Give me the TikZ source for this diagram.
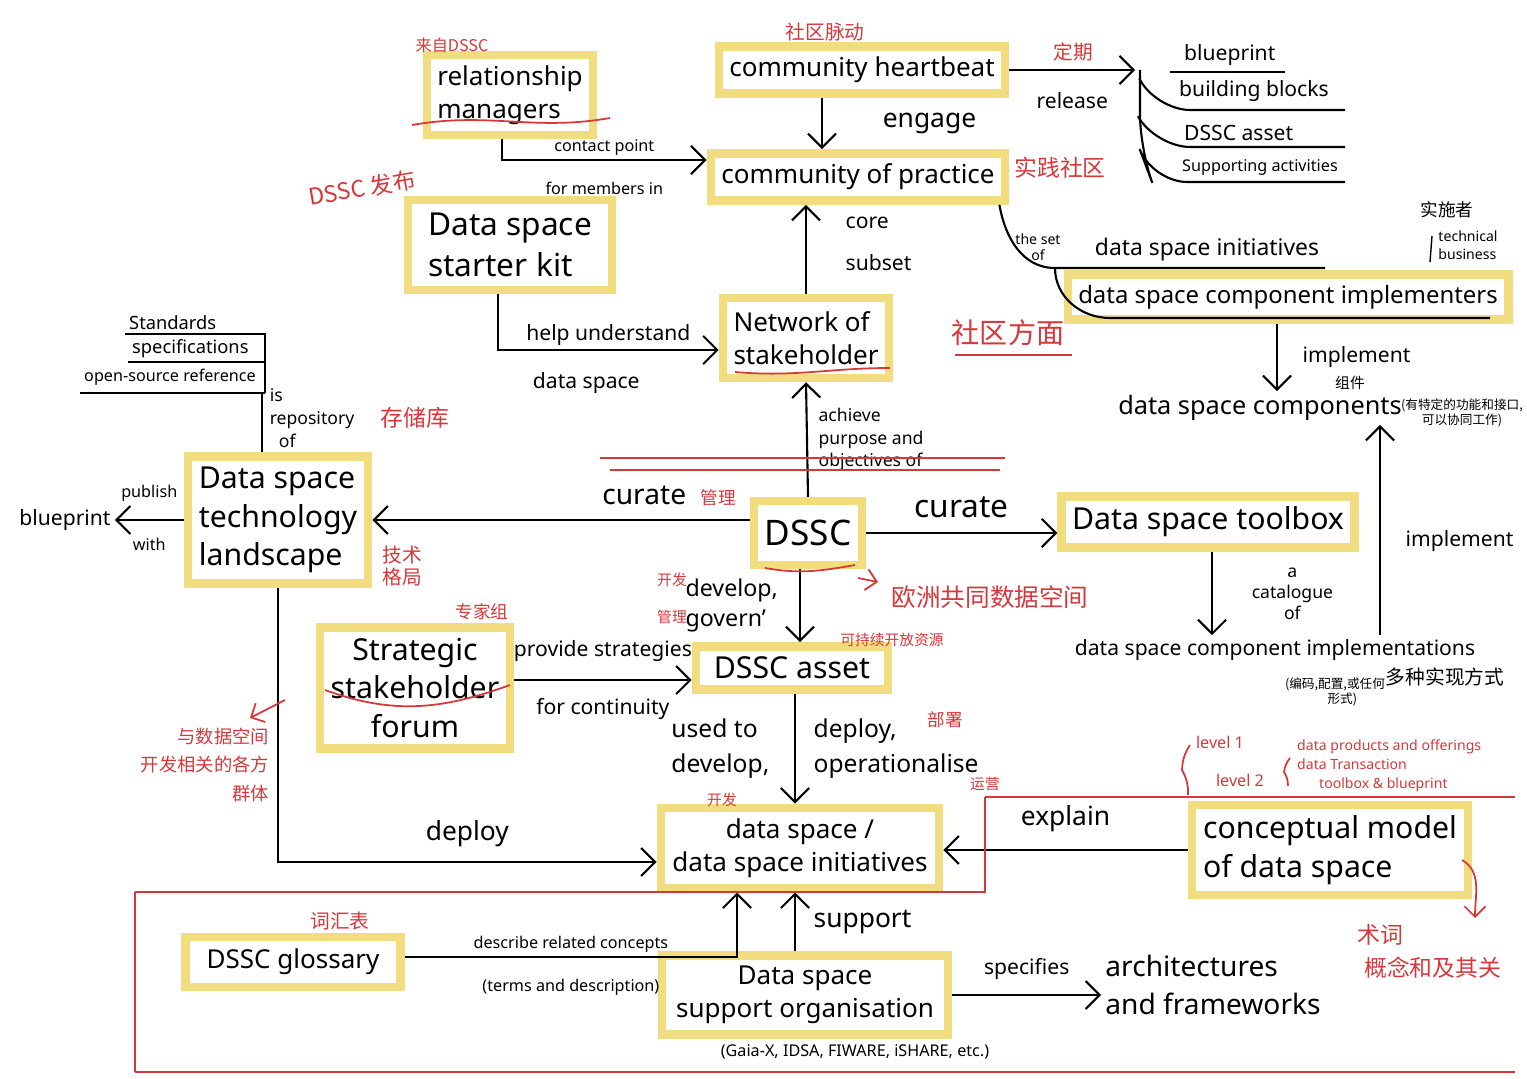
\documentclass[tikz,border=0pt]{standalone}
\usepackage{fontspec}
\setmainfont{Noto Sans}
\newfontfamily\cjk{Noto Sans CJK SC}
\usetikzlibrary{arrows.meta}
\definecolor{hilite}{HTML}{F2DC80}
\definecolor{pen}{HTML}{D8373A}
\tikzstyle{concept}=[draw=hilite, line width=2.4pt, fill=white, inner sep=3pt, align=left, font=\fontsize{7.4}{9.5}\selectfont]
\tikzstyle{term}=[inner sep=1pt, align=left, font=\fontsize{7.2}{9}\selectfont]
\tikzstyle{link}=[inner sep=1pt, align=left, font=\fontsize{6}{7.5}\selectfont]
\tikzstyle{small}=[inner sep=1pt, align=left, font=\fontsize{4.6}{5.6}\selectfont]
\tikzstyle{note}=[inner sep=1pt, text=pen, align=left, font=\cjk\fontsize{5.6}{6.5}\selectfont]
\tikzstyle{tiny}=[inner sep=1pt, align=left, font=\cjk\fontsize{3.6}{4.4}\selectfont]
\tikzstyle{arr}=[draw, -{Straight Barb[length=4pt]}, line width=0.6pt]
\tikzstyle{ln}=[draw, line width=0.6pt]

\begin{document}
\begin{tikzpicture}[x=0.01cm, y=-0.01cm]
    \useasboundingbox (0,0) rectangle (1527,1079);
    % boxed concepts
    \node[concept, minimum width=1.6cm, minimum height=0.62cm] (RM)  at (510,95)   {relationship\\managers};
    \node[concept, minimum width=2.82cm, minimum height=0.42cm] (CH)  at (862,70)   {community heartbeat};
    \node[concept, minimum width=2.84cm, minimum height=0.44cm] (CoP) at (858,177)  {community of practice};
    \node[concept, minimum width=2.04cm, minimum height=0.9cm, font=\fontsize{9}{11.5}\selectfont] (SK) at (510,245) {Data space\\starter kit};
    \node[concept, minimum width=1.57cm, minimum height=0.8cm] (NS)  at (806,338)  {Network of\\stakeholder};
    \node[concept, minimum width=1.8cm, minimum height=1.12cm,font=\fontsize{8.6}{11}\selectfont] (TL) at (278,520) {Data space\\technology\\landscape};
    \node[concept, minimum width=1.06cm, minimum height=0.64cm, font=\fontsize{10}{12}\selectfont] (DSSC) at (808,533) {DSSC};
    \node[concept, minimum width=2.9cm, minimum height=0.46cm, font=\fontsize{8.6}{11}\selectfont] (TB) at (1208,522) {Data space toolbox};
    \node[concept, minimum width=4.2cm, minimum height=0.42cm, font=\fontsize{6.8}{8}\selectfont] (IMP) at (1288,297) {data space component implementers};
    \node[concept, minimum width=1.78cm, minimum height=1.2cm, align=center, font=\fontsize{8.6}{11}\selectfont] (SF) at (415,688) {Strategic\\stakeholder\\forum};
    \node[concept, minimum width=1.92cm, minimum height=0.42cm, font=\fontsize{8.6}{11}\selectfont] (DA) at (792,668) {DSSC asset};
    \node[concept, minimum width=2.78cm, minimum height=0.72cm, align=center] (DSI) at (800,848) {data space /\\data space initiatives};
    \node[concept, minimum width=2.76cm, minimum height=0.86cm, font=\fontsize{8.6}{11}\selectfont] (CM) at (1330,850) {conceptual model\\of data space};
    \node[concept, minimum width=2.15cm, minimum height=0.5cm] (GL) at (293,962) {DSSC glossary};
    \node[concept, minimum width=2.86cm, minimum height=0.66cm, align=center] (SO) at (805,995) {Data space\\support organisation};

    % plain concepts
    \node[term] (COMP) at (1260,408) {data space components};
    \node[term, font=\fontsize{6}{7.5}\selectfont] (CI) at (1275,650) {data space component implementations};
    \node[term, font=\fontsize{8}{11}\selectfont] (AF) at (1213,985) {architectures\\and frameworks};
    \node[term, font=\fontsize{6.5}{8}\selectfont] (INI) at (1207,250) {data space initiatives};
    \node[link] (BP) at (65,520) {blueprint};
    \node[small] at (855,1052) {(Gaia-X, IDSA, FIWARE, iSHARE, etc.)};

    % list top right
    \node[link, anchor=south west] (L1) at (1180,70) {blueprint};
    \node[link, anchor=south west] (L2) at (1175,106) {building blocks};
    \node[link, anchor=south west] (L3) at (1180,145) {DSSC asset};
    \node[small, anchor=south west] (L4) at (1178,180) {Supporting activities};
    \coordinate (LT) at (1135,70);
    \draw[arr] (CH.east) -- node[link, below=5pt] {release} (LT);
    \draw[ln] (1170,72) -- (1285,72);
    \draw[ln, rounded corners=10] (1140,70) -- (1140,150) -- (1152,182) -- (1345,182);
    \draw[ln, rounded corners=10] (1140,80) -- (1155,110) -- (1345,110);
    \draw[ln, rounded corners=10] (1140,120) -- (1155,147) -- (1345,147);

    % list left
    \node[small, font=\fontsize{5.2}{6}\selectfont, anchor=south west] at (125,334) {Standards};
    \node[small, font=\fontsize{5.2}{6}\selectfont, anchor=south west] at (128,362) {specifications};
    \node[small, anchor=south west] at (80,390) {open-source reference};
    \draw[ln] (125,334) -- (265,334) -- (265,393) (128,362) -- (265,362) (80,393) -- (265,393);
    \draw[ln] (262,393) -- (TL.north -| 262,0);
    \node[small, font=\fontsize{5}{6.5}\selectfont] at (312,418) {is\\repository\\\ \ of};

    % connectors
    \draw[arr] (CH.south -| 822,0) -- node[link, right=16pt, font=\fontsize{7.5}{9}\selectfont] {engage} (CoP.north -| 822,0);
    \draw[arr] (RM.south -| 502,0) |- node[pos=0.75, small, above] {contact point} node[pos=0.75, small, below=5pt] {for members in} (CoP.west |- 0,160);
    \draw[arr] (NS.north) -- node[link, right=10pt, pos=0.35] {subset} node[link, right=10pt, pos=0.8] {core} (CoP.south -| NS.north);
    \draw[arr] (SK.south -| 498,0) |- node[pos=0.75, link, above] {help understand} node[pos=0.7, link, below=5pt] {data space} (NS.west |- 0,350);
    \draw[arr] (DSSC.north) -- node[small, right=2pt, font=\fontsize{5}{6.5}\selectfont] {achieve\\purpose and\\objectives of} (NS.south);
    \draw[arr] (DSSC.west |- 0,520) -- node[pos=0.28, link, above=3pt, font=\fontsize{8}{10}\selectfont] {curate} (TL.east |- 0,520);
    \draw[arr] (DSSC.east |- 0,533) -- node[link, above=3pt, font=\fontsize{9}{11}\selectfont] {curate} (TB.west |- 0,533);
    \draw[arr] (TL.west) -- node[small, above=4pt] {publish} node[small, below=4pt] {with} (BP.east);
    \draw[arr] (TB.south -| 1212,0) -- node[small, right=10pt, font=\fontsize{5}{6}\selectfont, align=center] {a\\catalogue\\of} (CI.north -| 1212,0);
    \draw[arr] (CI.north -| 1380,0) -- node[link, right=6pt, pos=0.45] {implement} (COMP.south -| 1380,0);
    \draw[arr] (IMP.south -| 1277,0) -- node[link, right=6pt] {implement} (COMP.north -| 1277,0);
    \draw[ln] (CoP.south east) ++(-10,0) to[out=-80, in=180] (1055,268) -- (1325,268);
    \draw[ln] (1055,268) to[out=-90, in=180] (1110,318) -- (1490,318);
    \node[small, font=\fontsize{4}{4.6}\selectfont, align=center] at (1038,247) {the set\\of};
    \draw[arr] (DSSC.south -| 800,0) -- node[link, left=5pt, font=\fontsize{6.6}{8.5}\selectfont] {develop,\\govern'} (DA.north -| 800,0);
    \draw[arr] (SF.east |- 0,680) -- node[link, above=4pt] {provide strategies} node[link, below=4pt] {for continuity} (DA.west |- 0,680);
    \draw[arr] (DA.south -| 795,0) -- node[link, left=6pt, font=\fontsize{7}{10}\selectfont] {used to\\develop,} node[link, right=4pt, font=\fontsize{7}{10}\selectfont] {deploy,\\operationalise} (DSI.north -| 795,0);
    \draw[arr] (TL.south) |- node[pos=0.75, link, above=3pt, font=\fontsize{7.5}{9}\selectfont] {deploy} (DSI.west |- 0,862);
    \draw[arr] (CM.west) -- node[link, above=4pt, font=\fontsize{7.5}{9}\selectfont] {explain} (DSI.east |- CM.west);
    \draw[arr] (GL.east |- 0,957) -| node[pos=0.25, small, above] {describe related concepts} node[pos=0.25, small, below=5pt] {(terms and description)} (DSI.south -| 737,0);
    \draw[arr] (SO.north -| 795,0) -- node[link, right=4pt, font=\fontsize{7.5}{9}\selectfont] {support} (DSI.south -| 795,0);
    \draw[arr] (SO.east |- 0,995) -- node[link, above=3pt] {specifies} (AF.west |- 0,995);

    % black notes
    \node[tiny, font=\cjk\fontsize{5}{6}\selectfont] at (1447,210) {实施者};
    \node[small, font=\fontsize{4}{5}\selectfont] at (1468,245) {technical\\business};
    \draw[ln, line width=0.4pt] (1432,236) -- (1430,262);
    \node[tiny, font=\cjk\fontsize{4.2}{5}\selectfont] at (1350,383) {组件};
    \node[tiny, align=center] at (1462,413) {(有特定的功能和接口,\\可以协同工作)};
    \node[tiny] at (1335,692) {(编码,配置,或任何\\\ \ \ \ \ \ \ \ \ \ \ \ \ \ \ 形式)};
    \node[tiny, font=\cjk\fontsize{5.6}{6.5}\selectfont] at (1445,677) {多种实现方式};

    % red notes
    \node[note, font=\cjk\fontsize{4.6}{5.6}\selectfont] at (452,45) {来自DSSC};
    \node[note] at (825,32) {社区脉动};
    \node[note] at (1073,52) {定期};
    \node[note, font=\cjk\fontsize{6.5}{7.5}\selectfont] at (1060,168) {实践社区};
    \node[note, font=\cjk\fontsize{6.5}{7.5}\selectfont, rotate=10] at (362,188) {DSSC 发布};
    \node[note, font=\cjk\fontsize{8}{9}\selectfont] at (1008,333) {社区方面};
    \node[note, font=\cjk\fontsize{6.5}{7.5}\selectfont] at (415,418) {存储库};
    \node[note] at (402,566) {技术\\格局};
    \node[note, font=\cjk\fontsize{5}{6}\selectfont] (MG) at (718,498) {管理};
    \node[note, font=\cjk\fontsize{7}{8}\selectfont] (EU) at (990,597) {欧洲共同数据空间};
    \node[note, font=\cjk\fontsize{5}{6}\selectfont] at (482,612) {专家组};
    \node[note, font=\cjk\fontsize{4.2}{5}\selectfont] at (672,580) {开发};
    \node[note, font=\cjk\fontsize{4.2}{5}\selectfont] at (672,617) {管理};
    \node[note, font=\cjk\fontsize{4.2}{5}\selectfont] at (892,640) {可持续开放资源};
    \node[note, font=\cjk\fontsize{5}{6}\selectfont] at (945,720) {部署};
    \node[note, font=\cjk\fontsize{4.2}{5}\selectfont] at (985,784) {运营};
    \node[note, font=\cjk\fontsize{4.2}{5}\selectfont] at (722,800) {开发};
    \node[note, font=\cjk\fontsize{5.2}{8}\selectfont, align=right] (GRP) at (205,765) {与数据空间\\开发相关的各方\\群体};
    \node[note] at (340,921) {词汇表};
    \node[note, font=\cjk\fontsize{6.5}{7.5}\selectfont] at (1380,935) {术词};
    \node[note, font=\cjk\fontsize{6.5}{7.5}\selectfont, anchor=west] at (1360,968) {概念和及其关};
    \node[note, font=\fontsize{4.6}{5.6}\selectfont] at (1220,742) {level 1};
    \node[note, font=\fontsize{4.6}{5.6}\selectfont] at (1240,780) {level 2};
    \node[note, font=\fontsize{4}{5.4}\selectfont, anchor=west] at (1293,766) {data products and offerings\\data Transaction\\\ \ \ \ \ \ toolbox \& blueprint};
    \draw[pen, line width=0.5pt] (1190,745) to[bend right=15] (1182,770) to[bend left=15] (1188,795);
    \draw[pen, line width=0.5pt] (1290,758) to[bend right=15] (1284,772) to[bend left=15] (1288,786);
    \draw[pen, line width=0.5pt, -{Straight Barb[length=3pt]}] (858,578) -- (878,582);
    \draw[pen, line width=0.5pt, -{Straight Barb[length=3pt]}] (285,700) -- (250,718);
    \draw[pen, line width=0.5pt, -{Straight Barb[length=3pt]}] (1462,860) to[out=-30, in=90] (1475,918);
    \draw[pen, line width=0.5pt] (955,355) -- (1072,355);
    \draw[pen, line width=0.5pt] (600,458) -- (1005,458) (610,470) -- (1000,470);
    \draw[pen, line width=0.5pt] (412,125) to[out=10, in=190] (610,118);
    \draw[pen, line width=0.5pt] (735,372) to[out=-5, in=180] (890,368);
    \draw[pen, line width=0.5pt] (765,568) to[out=-10, in=190] (855,565);
    \draw[pen, line width=0.5pt] (325,690) to[out=-20, in=200] (510,685);
    \draw[pen, line width=0.5pt] (985,797) -- (1515,797) (135,1072) -- (1515,1072) (135,892) -- (135,1072) (135,892) -- (985,892) -- (985,797);
\end{tikzpicture}
\end{document}
